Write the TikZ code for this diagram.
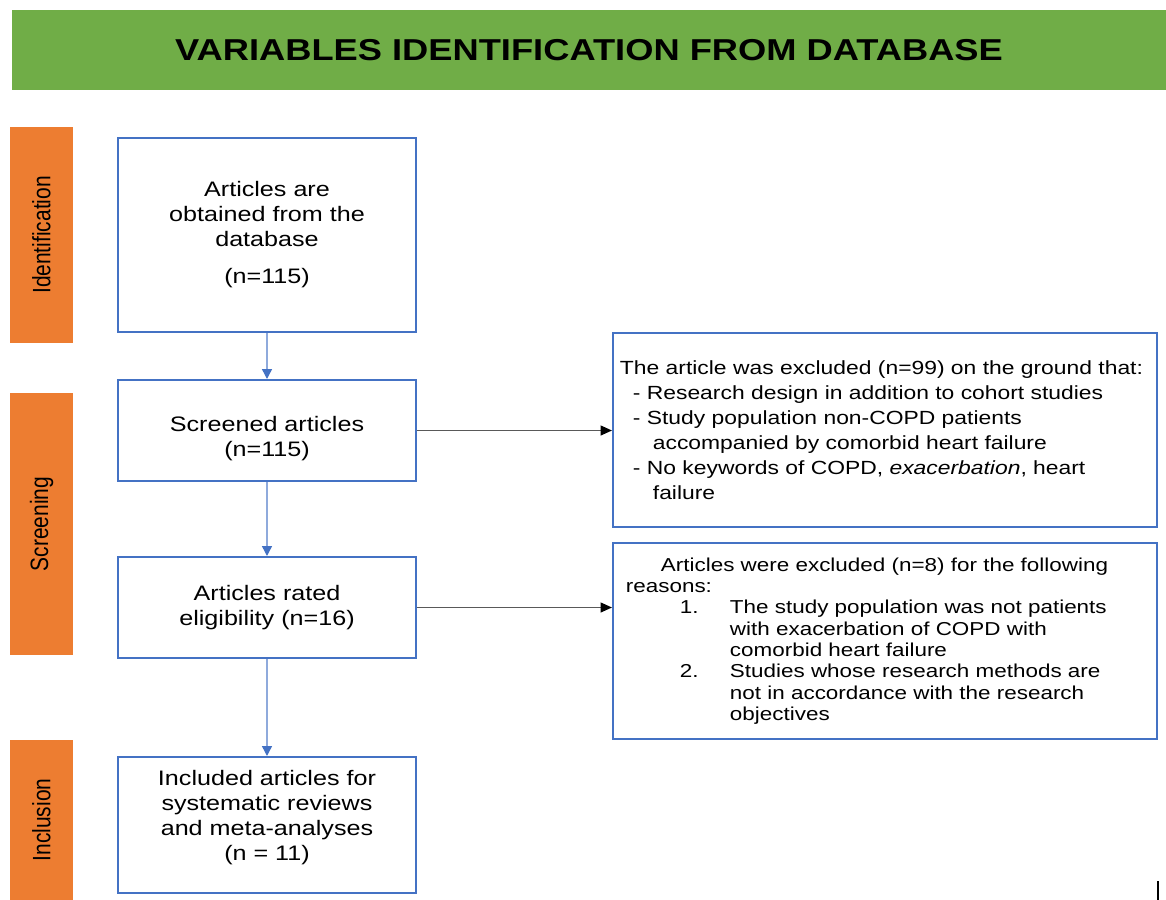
\documentclass[tikz,border=0pt]{standalone}
\usepackage{fontspec}
\setmainfont{Liberation Sans}[FakeStretch=1.2]
\newfontfamily\tabfont{Liberation Sans}
\usetikzlibrary{arrows.meta}
\definecolor{bannergreen}{HTML}{70AD47}
\definecolor{stageorange}{HTML}{ED7D31}
\definecolor{boxblue}{HTML}{4472C4}
\definecolor{flowblue}{HTML}{8FAADC}

\begin{document}
\begin{tikzpicture}[
        x=0.025cm, y=-0.025cm,
        banner/.style={fill=bannergreen, minimum width=28.85cm, minimum height=2cm, inner sep=0pt, font=\fontsize{21.5}{25}\selectfont\bfseries},
        stage/.style={fill=stageorange, minimum width=1.575cm, inner sep=0pt, font=\tabfont\fontsize{14.9}{17.8}\selectfont},
        box/.style={draw=boxblue, line width=1.4pt, minimum width=7.45cm, inner sep=0pt, align=center, font=\fontsize{14.9}{17.8}\selectfont},
        note/.style={draw=boxblue, line width=1.4pt, inner xsep=0.05cm, text width=13.5cm, align=left, font=\fontsize{13.55}{17.8}\selectfont},
        flow/.style={draw=flowblue, line width=1pt, -{Triangle[length=7pt, width=7pt, color=boxblue]}},
        drop/.style={draw=black!65, line width=1pt, -{Triangle[length=8pt, width=7pt, color=black]}}
    ]
    % page
    \useasboundingbox[fill=white] (0,0) rectangle (1166,900);
    % heading
    \node[banner] (title) at (589, 50) {VARIABLES IDENTIFICATION FROM DATABASE};
    % stages
    \node[stage, minimum height=5.4cm] (tabident) at (41.5, 235) {\rotatebox{90}{\scalebox{1}[1.2]{Identification}}};
    \node[stage, minimum height=6.55cm] (tabscreen) at (41.5, 524) {\rotatebox{90}{\scalebox{1}[1.2]{Screening}}};
    \node[stage, minimum height=4cm] (tabincl) at (41.5, 820) {\rotatebox{90}{\scalebox{1}[1.2]{Inclusion}}};
    % main boxes
    \node[box, minimum height=4.85cm] (found) at (267, 235) {Articles are\\obtained from the\\database\\[8.5pt](n=115)};
    \node[box, minimum height=2.525cm] (screened) at (267, 430.5) {\rule{0pt}{22pt}Screened articles\\(n=115)};
    \node[box, minimum height=2.525cm] (rated) at (267, 607.5) {Articles rated\\eligibility (n=16)};
    \node[box, minimum height=3.4cm] (included) at (267, 825) {Included articles for\\systematic reviews\\and meta-analyses\\(n = 11)\rule[-13.5pt]{0pt}{13.5pt}};
    % excluded
    \node[note, minimum height=4.85cm] (dropscreen) at (885, 430) {\hspace*{3.6pt}The article was excluded (n=99) on the ground that:\\
        \hspace*{12.8pt}- Research design in addition to cohort studies\\
        \hspace*{12.8pt}- Study population non-COPD patients\\
        \hspace*{27pt}accompanied by comorbid heart failure\\
        \hspace*{12.8pt}- No keywords of COPD, \textit{exacerbation}, heart\\
        \hspace*{27pt}failure};
    \node[note, minimum height=4.9cm, font=\fontsize{13.3}{15.2}\selectfont] (droprated) at (885, 641) {\hspace*{32.7pt}Articles were excluded (n=8) for the following\\
        \hspace*{7.8pt}reasons:\\
        \hspace*{46.2pt}\makebox[35.6pt][l]{1.}The study population was not patients\\
        \hspace*{81.8pt}with exacerbation of COPD with\\
        \hspace*{81.8pt}comorbid heart failure\\
        \hspace*{46.2pt}\makebox[35.6pt][l]{2.}Studies whose research methods are\\
        \hspace*{81.8pt}not in accordance with the research\\
        \hspace*{81.8pt}objectives};
    % arrows
    \draw[flow] (found) -- (screened);
    \draw[flow] (screened) -- (rated);
    \draw[flow] (rated) -- (included);
    \draw[drop] (screened.east) -- (screened.east -| dropscreen.west);
    \draw[drop] (rated.east) -- (rated.east -| droprated.west);
    % mark
    \draw[line width=1.4pt] (1158, 881) -- (1158, 900);
\end{tikzpicture}
\end{document}
